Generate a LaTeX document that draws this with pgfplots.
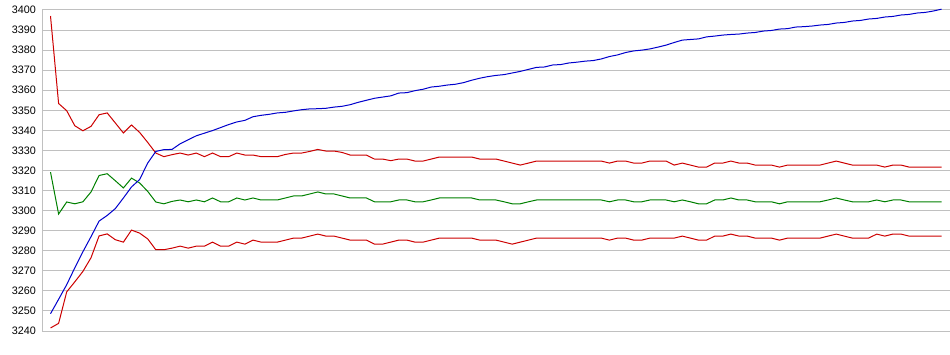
\documentclass[border=0pt]{standalone}
\usepackage{fontspec}
\setmainfont{Liberation Sans}
\usepackage{pgfplots}
\pgfplotsset{compat=1.18}
\usepackage{pgfplotstable}
\definecolor{gridc}{RGB}{192,192,192}
\definecolor{lblue}{RGB}{0,0,204}
\definecolor{lred}{RGB}{204,0,0}
\definecolor{lgreen}{RGB}{0,128,0}

\pgfplotstableread{
i b r1 g r2
0 3248.6 3397.0 3319.2 3241.5
1 3255.8 3353.4 3298.3 3243.8
2 3263.1 3349.8 3304.3 3259.5
3 3271.5 3342.3 3303.4 3264.5
4 3279.5 3339.8 3304.4 3269.7
5 3287.0 3342.0 3309.3 3276.5
6 3294.8 3347.8 3317.5 3287.4
7 3297.6 3348.7 3318.4 3288.4
8 3301.0 3343.7 3314.9 3285.5
9 3306.3 3338.7 3311.3 3284.3
10 3311.8 3342.7 3316.2 3290.3
11 3315.5 3339.0 3313.8 3288.8
12 3323.7 3334.0 3309.6 3285.9
13 3329.5 3328.7 3304.3 3280.5
14 3330.4 3326.9 3303.4 3280.5
15 3330.5 3327.9 3304.6 3281.3
16 3333.3 3328.7 3305.3 3282.3
17 3335.3 3327.7 3304.4 3281.3
18 3337.3 3328.7 3305.3 3282.3
19 3338.6 3326.9 3304.4 3282.3
20 3339.9 3328.7 3306.3 3284.3
21 3341.4 3326.9 3304.4 3282.3
22 3342.9 3326.9 3304.4 3282.3
23 3344.2 3328.7 3306.3 3284.3
24 3345.0 3327.7 3305.3 3283.3
25 3346.8 3327.7 3306.3 3285.3
26 3347.5 3326.9 3305.3 3284.3
27 3348.0 3326.9 3305.3 3284.3
28 3348.7 3326.9 3305.3 3284.3
29 3349.0 3328.0 3306.3 3285.3
30 3349.7 3328.7 3307.3 3286.3
31 3350.3 3328.7 3307.3 3286.3
32 3350.7 3329.5 3308.3 3287.3
33 3350.8 3330.5 3309.3 3288.3
34 3351.0 3329.7 3308.3 3287.3
35 3351.6 3329.7 3308.3 3287.3
36 3352.0 3329.0 3307.3 3286.3
37 3352.8 3327.7 3306.3 3285.3
38 3354.0 3327.7 3306.3 3285.3
39 3355.0 3327.7 3306.3 3285.3
40 3356.0 3325.7 3304.4 3283.3
41 3356.6 3325.7 3304.4 3283.3
42 3357.2 3324.9 3304.4 3284.3
43 3358.6 3325.7 3305.3 3285.3
44 3358.8 3325.7 3305.3 3285.3
45 3359.8 3324.7 3304.4 3284.3
46 3360.5 3324.7 3304.4 3284.3
47 3361.6 3325.7 3305.3 3285.3
48 3362.0 3326.7 3306.3 3286.3
49 3362.6 3326.7 3306.3 3286.3
50 3363.0 3326.7 3306.3 3286.3
51 3363.8 3326.7 3306.3 3286.3
52 3365.0 3326.7 3306.3 3286.3
53 3366.0 3325.7 3305.3 3285.3
54 3366.8 3325.7 3305.3 3285.3
55 3367.4 3325.7 3305.3 3285.3
56 3367.8 3324.7 3304.4 3284.3
57 3368.6 3323.7 3303.4 3283.3
58 3369.4 3322.7 3303.4 3284.3
59 3370.4 3323.7 3304.4 3285.3
60 3371.4 3324.7 3305.3 3286.3
61 3371.6 3324.7 3305.3 3286.3
62 3372.6 3324.7 3305.3 3286.3
63 3372.8 3324.7 3305.3 3286.3
64 3373.6 3324.7 3305.3 3286.3
65 3374.0 3324.7 3305.3 3286.3
66 3374.5 3324.7 3305.3 3286.3
67 3374.8 3324.7 3305.3 3286.3
68 3375.6 3324.7 3305.3 3286.3
69 3376.8 3323.7 3304.4 3285.3
70 3377.6 3324.7 3305.3 3286.3
71 3378.8 3324.7 3305.3 3286.3
72 3379.6 3323.7 3304.4 3285.3
73 3380.0 3323.7 3304.4 3285.3
74 3380.6 3324.7 3305.3 3286.3
75 3381.5 3324.7 3305.3 3286.3
76 3382.5 3324.7 3305.3 3286.3
77 3383.8 3322.7 3304.4 3286.3
78 3385.0 3323.7 3305.3 3287.3
79 3385.3 3322.7 3304.4 3286.3
80 3385.6 3321.7 3303.4 3285.3
81 3386.6 3321.7 3303.4 3285.3
82 3387.0 3323.7 3305.3 3287.3
83 3387.5 3323.7 3305.3 3287.3
84 3387.8 3324.7 3306.3 3288.3
85 3388.0 3323.7 3305.3 3287.3
86 3388.5 3323.7 3305.3 3287.3
87 3388.8 3322.7 3304.4 3286.3
88 3389.5 3322.7 3304.4 3286.3
89 3389.8 3322.7 3304.4 3286.3
90 3390.5 3321.7 3303.4 3285.3
91 3390.7 3322.7 3304.4 3286.3
92 3391.5 3322.7 3304.4 3286.3
93 3391.7 3322.7 3304.4 3286.3
94 3392.0 3322.7 3304.4 3286.3
95 3392.5 3322.7 3304.4 3286.3
96 3392.8 3323.7 3305.3 3287.3
97 3393.5 3324.7 3306.3 3288.3
98 3393.8 3323.7 3305.3 3287.3
99 3394.5 3322.7 3304.4 3286.3
100 3394.8 3322.7 3304.4 3286.3
101 3395.5 3322.7 3304.4 3286.3
102 3395.8 3322.7 3305.3 3288.3
103 3396.5 3321.7 3304.4 3287.3
104 3396.8 3322.7 3305.3 3288.3
105 3397.5 3322.7 3305.3 3288.3
106 3397.8 3321.7 3304.4 3287.3
107 3398.5 3321.7 3304.4 3287.3
108 3398.8 3321.7 3304.4 3287.3
109 3399.5 3321.7 3304.4 3287.3
110 3400.4 3321.7 3304.4 3287.3
}\data

\begin{document}
\begin{tikzpicture}
\path[use as bounding box] (0,0) rectangle (950bp,355bp);
\begin{axis}[
  at={(42bp,24bp)}, anchor=south west,
  scale only axis, width=908bp, height=321bp,
  xmin=-1.05, xmax=111.05, ymin=3240, ymax=3400,
  axis lines*=left,
  axis line style={gridc, line width=1bp},
  ytick={3240,3250,...,3400}, xtick=\empty,
  ymajorgrids, grid style={gridc, line width=1bp},
  major tick length=0pt,
  /pgf/number format/1000 sep={},
  /pgf/number format/assume math mode=true,
  yticklabel style={font=\fontsize{10.8bp}{12bp}\selectfont, inner sep=0pt, xshift=-6bp, text=black},
  clip=false,
]
\addplot[lred, line width=1bp, mark=none] table[x=i,y=r1]{\data};
\addplot[lgreen, line width=1bp, mark=none] table[x=i,y=g]{\data};
\addplot[lred, line width=1bp, mark=none] table[x=i,y=r2]{\data};
\addplot[lblue, line width=1bp, mark=none] table[x=i,y=b]{\data};
\end{axis}
\end{tikzpicture}
\end{document}
